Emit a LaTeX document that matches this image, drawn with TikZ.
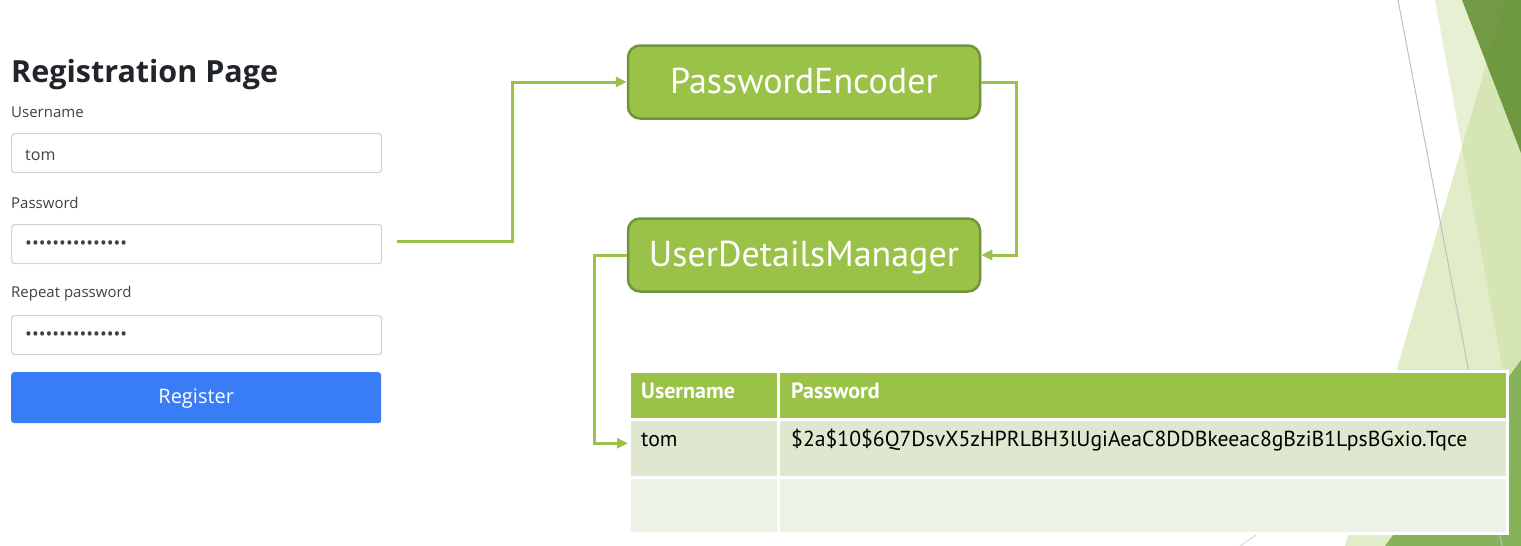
\documentclass[tikz,border=0pt]{standalone}
\usepackage{fontspec}
\setmainfont{Open Sans}
\newfontfamily\slidefont{PT Sans}
\usepackage{xcolor}
\definecolor{facetgreen}{HTML}{9BC248}
\definecolor{facetedge}{HTML}{71933A}
\definecolor{facetrowa}{HTML}{DFE8CF}
\definecolor{facetrowb}{HTML}{EDF2E6}
\definecolor{facetdark}{HTML}{5E8C2E}
\definecolor{facetlight}{HTML}{C9DD9C}
\definecolor{facetmid}{HTML}{86B35A}
\definecolor{formtext}{HTML}{212529}
\definecolor{formlabel}{HTML}{3C4248}
\definecolor{formborder}{HTML}{CED4DA}
\definecolor{formblue}{HTML}{387CF6}
\usetikzlibrary{
  arrows.meta,
  positioning,
}
\newcommand{\maskdots}{\foreach \i in {1,...,15}{\hbox to 6.8pt{\hss\fontsize{18}{18}\selectfont •\hss}}}

\begin{document}
\begin{tikzpicture}[
  x=1pt, y=-1pt,
  field/.style={
    draw=formborder, line width=1.2pt, rounded corners=3pt, fill=white,
    minimum width=370pt, minimum height=39pt, anchor=north west,
  },
  flabel/.style={
    font=\fontsize{15}{15}\selectfont, text=formlabel, anchor=west, inner sep=0pt,
  },
  ftext/.style={
    font=\fontsize{16}{16}\selectfont, text=formlabel, anchor=west, inner sep=0pt,
  },
  bean/.style={
    draw=facetedge, fill=facetgreen, line width=2.5pt, rounded corners=12pt,
    minimum width=352pt, minimum height=73pt, text=white,
    text height=25pt, text depth=3pt,
    font=\slidefont\fontsize{36}{36}\selectfont,
  },
  flow/.style={
    draw=facetgreen, line width=3pt, -{Triangle[length=11pt,width=10pt]},
  },
  cell/.style={
    draw=white, line width=2.5pt, anchor=north west, inner sep=0pt,
  },
  celltxt/.style={
    font=\slidefont\fontsize{21.7}{22}\selectfont, anchor=west, inner sep=0pt,
  },
  headtxt/.style={
    font=\slidefont\bfseries\fontsize{22}{22}\selectfont, text=white, anchor=west, inner sep=0pt,
  },
]
  \useasboundingbox (0,0) rectangle (1521,546);

  % Facet background on the right
  \fill[facetlight, opacity=0.45] (1435,0) -- (1521,0) -- (1521,470) -- cycle;
  \fill[facetlight, opacity=0.55] (1345,546) -- (1505,0) -- (1521,0) -- (1521,546) -- cycle;
  \fill[facetdark, opacity=0.85] (1462,0) -- (1521,0) -- (1521,153) -- cycle;
  \fill[facetmid] (1385,546) -- (1521,360) -- (1521,546) -- cycle;
  \draw[black!25, line width=1pt] (1398,0) -- (1502,546);
  \draw[black!15, line width=1pt] (1240,546) -- (1300,505);

  % Registration form
  \node[anchor=west, inner sep=0pt, text=formtext, font=\bfseries\fontsize{30.5}{30}\selectfont] (title)
    at (11,75) {Registration Page};
  \node[flabel] (lbluser) at (11,112) {Username};
  \node[field] (user) at (11,133) {};
  \node[ftext] (usertxt) at (25,155) {tom};
  \node[flabel] (lblpwd) at (11,203) {Password};
  \node[field] (pwd) at (11,224) {};
  \node[ftext] (pwdtxt) at (25,245) {\maskdots};
  \node[flabel] (lblrep) at (11,294) {Repeat password};
  \node[field] (rep) at (11,315) {};
  \node[ftext] (reptxt) at (25,336) {\maskdots};
  \node[fill=formblue, rounded corners=3pt, minimum width=370pt, minimum height=51pt,
    text height=15pt, text depth=3pt,
    anchor=north west, text=white, font=\fontsize{20}{20}\selectfont] (register)
    at (11,372) {Register};

  % Beans
  \node[bean] (enc) at (804,82) {PasswordEncoder};
  \node[bean] (udm) at (804,255) {UserDetailsManager};

  % Users table
  \node[cell, fill=facetgreen, minimum width=149pt, minimum height=48pt] (huser) at (628,370) {};
  \node[cell, fill=facetgreen, minimum width=729pt, minimum height=48pt] (hpwd) at (777,370) {};
  \node[cell, fill=facetrowa, minimum width=149pt, minimum height=58pt] (r1user) at (628,418) {};
  \node[cell, fill=facetrowa, minimum width=729pt, minimum height=58pt] (r1pwd) at (777,418) {};
  \node[cell, fill=facetrowb, minimum width=149pt, minimum height=56pt] (r2user) at (628,476) {};
  \node[cell, fill=facetrowb, minimum width=729pt, minimum height=56pt] (r2pwd) at (777,476) {};

  \node[headtxt] (husertxt) at (641,391) {Username};
  \node[headtxt] (hpwdtxt) at (791,391) {Password};
  \node[celltxt] (r1usertxt) at (641,440) {tom};
  \node[celltxt] (r1pwdtxt) at (791,440) {\$2a\$10\$6Q7DsvX5zHPRLBH3lUgiAeaC8DDBkeeac8gBziB1LpsBGxio.Tqce};

  % Connectors
  \coordinate (pwdout) at (397,241);
  \draw[flow] (pwdout) -- ++(115,0) |- (enc.west);
  \draw[flow] (enc.east) -- ++(35,0) |- (udm.east);
  \draw[flow] (udm.west) -- ++(-32,0) |- ([yshift=5pt]r1user.west);
\end{tikzpicture}
\end{document}
